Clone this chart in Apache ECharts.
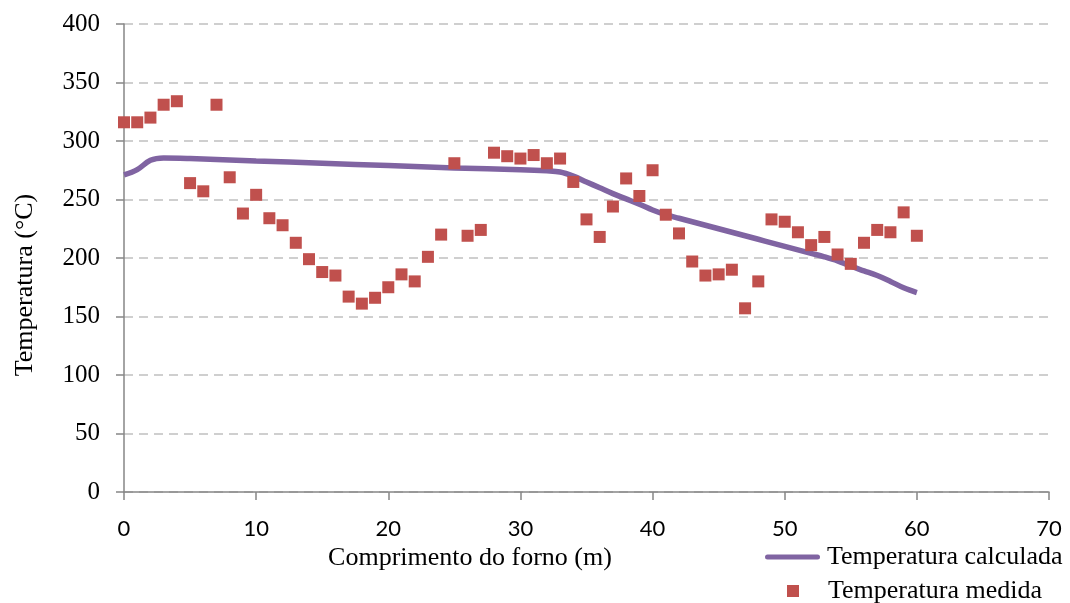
<!DOCTYPE html>
<html>
<head>
<meta charset="utf-8">
<script src="https://cdn.jsdelivr.net/npm/echarts@6/dist/echarts.min.js"></script>
<style>
html,body{margin:0;padding:0;background:#fff;}
#chart{width:1070px;height:603px;}
</style>
</head>
<body>
<div id="chart"></div>
<script>
// Temperatura calculada (line)
var calcX = [0, 1, 2, 3, 5, 10, 15, 20, 25, 30, 32, 33, 34, 35, 36, 37, 38, 39, 40, 41, 42, 43, 44, 45, 46, 47, 48, 49, 50, 51, 52, 53, 54, 55, 56, 57, 58, 59, 60];
var calcY = [271, 275.5, 283.5, 285.5, 285, 283, 281, 279, 277, 275.5, 274.5, 273.5, 270, 265, 260, 255, 250.5, 246, 241, 237, 234, 231, 228, 225, 222, 219, 216, 213, 210, 207, 204, 201, 197.5, 193, 189, 185, 180, 174.5, 170.5];
// Temperatura medida (scatter)
var measX = [0,1,2,3,4,5,6,7,8,9,10,11,12,13,14,15,16,17,18,19,20,21,22,23,24,25,26,27,28,29,30,31,32,33,34,35,36,37,38,39,40,41,42,43,44,45,46,47,48,49,50,51,52,53,54,55,56,57,58,59,60];
var measY = [316,316,320,331,334,264,257,331,269,238,254,234,228,213,199,188,185,167,161,166,175,186,180,201,220,281,219,224,290,287,285,288,281,285,265,233,218,244,268,253,275,237,221,197,185,186,190,157,180,233,231,222,211,218,203,195,213,224,222,239,219];
var xTicks = {min: 0, max: 70, interval: 10};
var yTicks = {min: 0, max: 400, interval: 50};
var names = ['Temperatura calculada', 'Temperatura medida'];

function zip(a, b) { return a.map(function (v, i) { return [v, b[i]]; }); }

var serif = 'Liberation Serif';
var chart = echarts.init(document.getElementById('chart'), null, {renderer: 'canvas'});
chart.setOption({
  animation: false,
  backgroundColor: '#ffffff',
  grid: {left: 124, right: 21, top: 24, bottom: 111, containLabel: false},
  legend: [
    {
      orient: 'vertical', left: 765, top: 544, padding: 0,
      itemWidth: 55, itemHeight: 12, itemGap: 0,
      textStyle: {fontFamily: serif, fontSize: 26, color: '#000', lineHeight: 26, padding: [0, 0, 0, 2]},
      data: [{name: names[0], icon: 'path://M2.5,0 L52.5,0 A2.5,2.5 0 0 1 52.5,5 L2.5,5 A2.5,2.5 0 0 1 2.5,0 Z', itemStyle: {color: '#8064a2'}}]
    },
    {
      orient: 'vertical', left: 787, top: 578, padding: 0,
      itemWidth: 12, itemHeight: 12, itemGap: 0,
      textStyle: {fontFamily: serif, fontSize: 26, color: '#000', lineHeight: 26, padding: [0, 0, 0, 24]},
      data: [{name: names[1], icon: 'rect'}]
    }
  ],
  xAxis: {
    type: 'value',
    min: xTicks.min, max: xTicks.max, interval: xTicks.interval,
    name: 'Comprimento do forno (m)',
    nameLocation: 'middle',
    nameGap: 46,
    nameTextStyle: {fontFamily: serif, fontSize: 26, color: '#000', padding: [0, 233, 0, 0]},
    axisLine: {show: true, lineStyle: {color: '#868686', width: 1.5}},
    axisTick: {show: true, length: 8, inside: false, lineStyle: {color: '#868686', width: 1.5}},
    axisLabel: {fontFamily: 'Lato', fontSize: 22, color: '#000', margin: 26},
    splitLine: {show: false}
  },
  yAxis: {
    type: 'value',
    min: yTicks.min, max: yTicks.max, interval: yTicks.interval,
    name: 'Temperatura (°C)',
    nameLocation: 'middle',
    nameGap: 86,
    nameRotate: 90,
    nameTextStyle: {fontFamily: serif, fontSize: 26, color: '#000', padding: [0, 54, 0, 0]},
    axisLine: {show: true, lineStyle: {color: '#868686', width: 1.5}},
    axisTick: {show: true, length: 8, lineStyle: {color: '#868686', width: 1.5}},
    axisLabel: {fontFamily: serif, fontSize: 25, color: '#000', margin: 24},
    splitLine: {show: true, lineStyle: {color: '#c0c0c0', width: 1.5, type: [9, 6]}}
  },
  series: [
    {
      name: names[0],
      type: 'line',
      data: zip(calcX, calcY),
      smooth: 0.35,
      symbol: 'none',
      lineStyle: {color: '#8064a2', width: 5.5},
      itemStyle: {color: '#8064a2'},
      z: 2
    },
    {
      name: names[1],
      type: 'scatter',
      data: zip(measX, measY),
      symbol: 'rect',
      symbolSize: 12,
      itemStyle: {color: '#c0504d', opacity: 1},
      z: 3
    }
  ]
});
</script>
</body>
</html>
